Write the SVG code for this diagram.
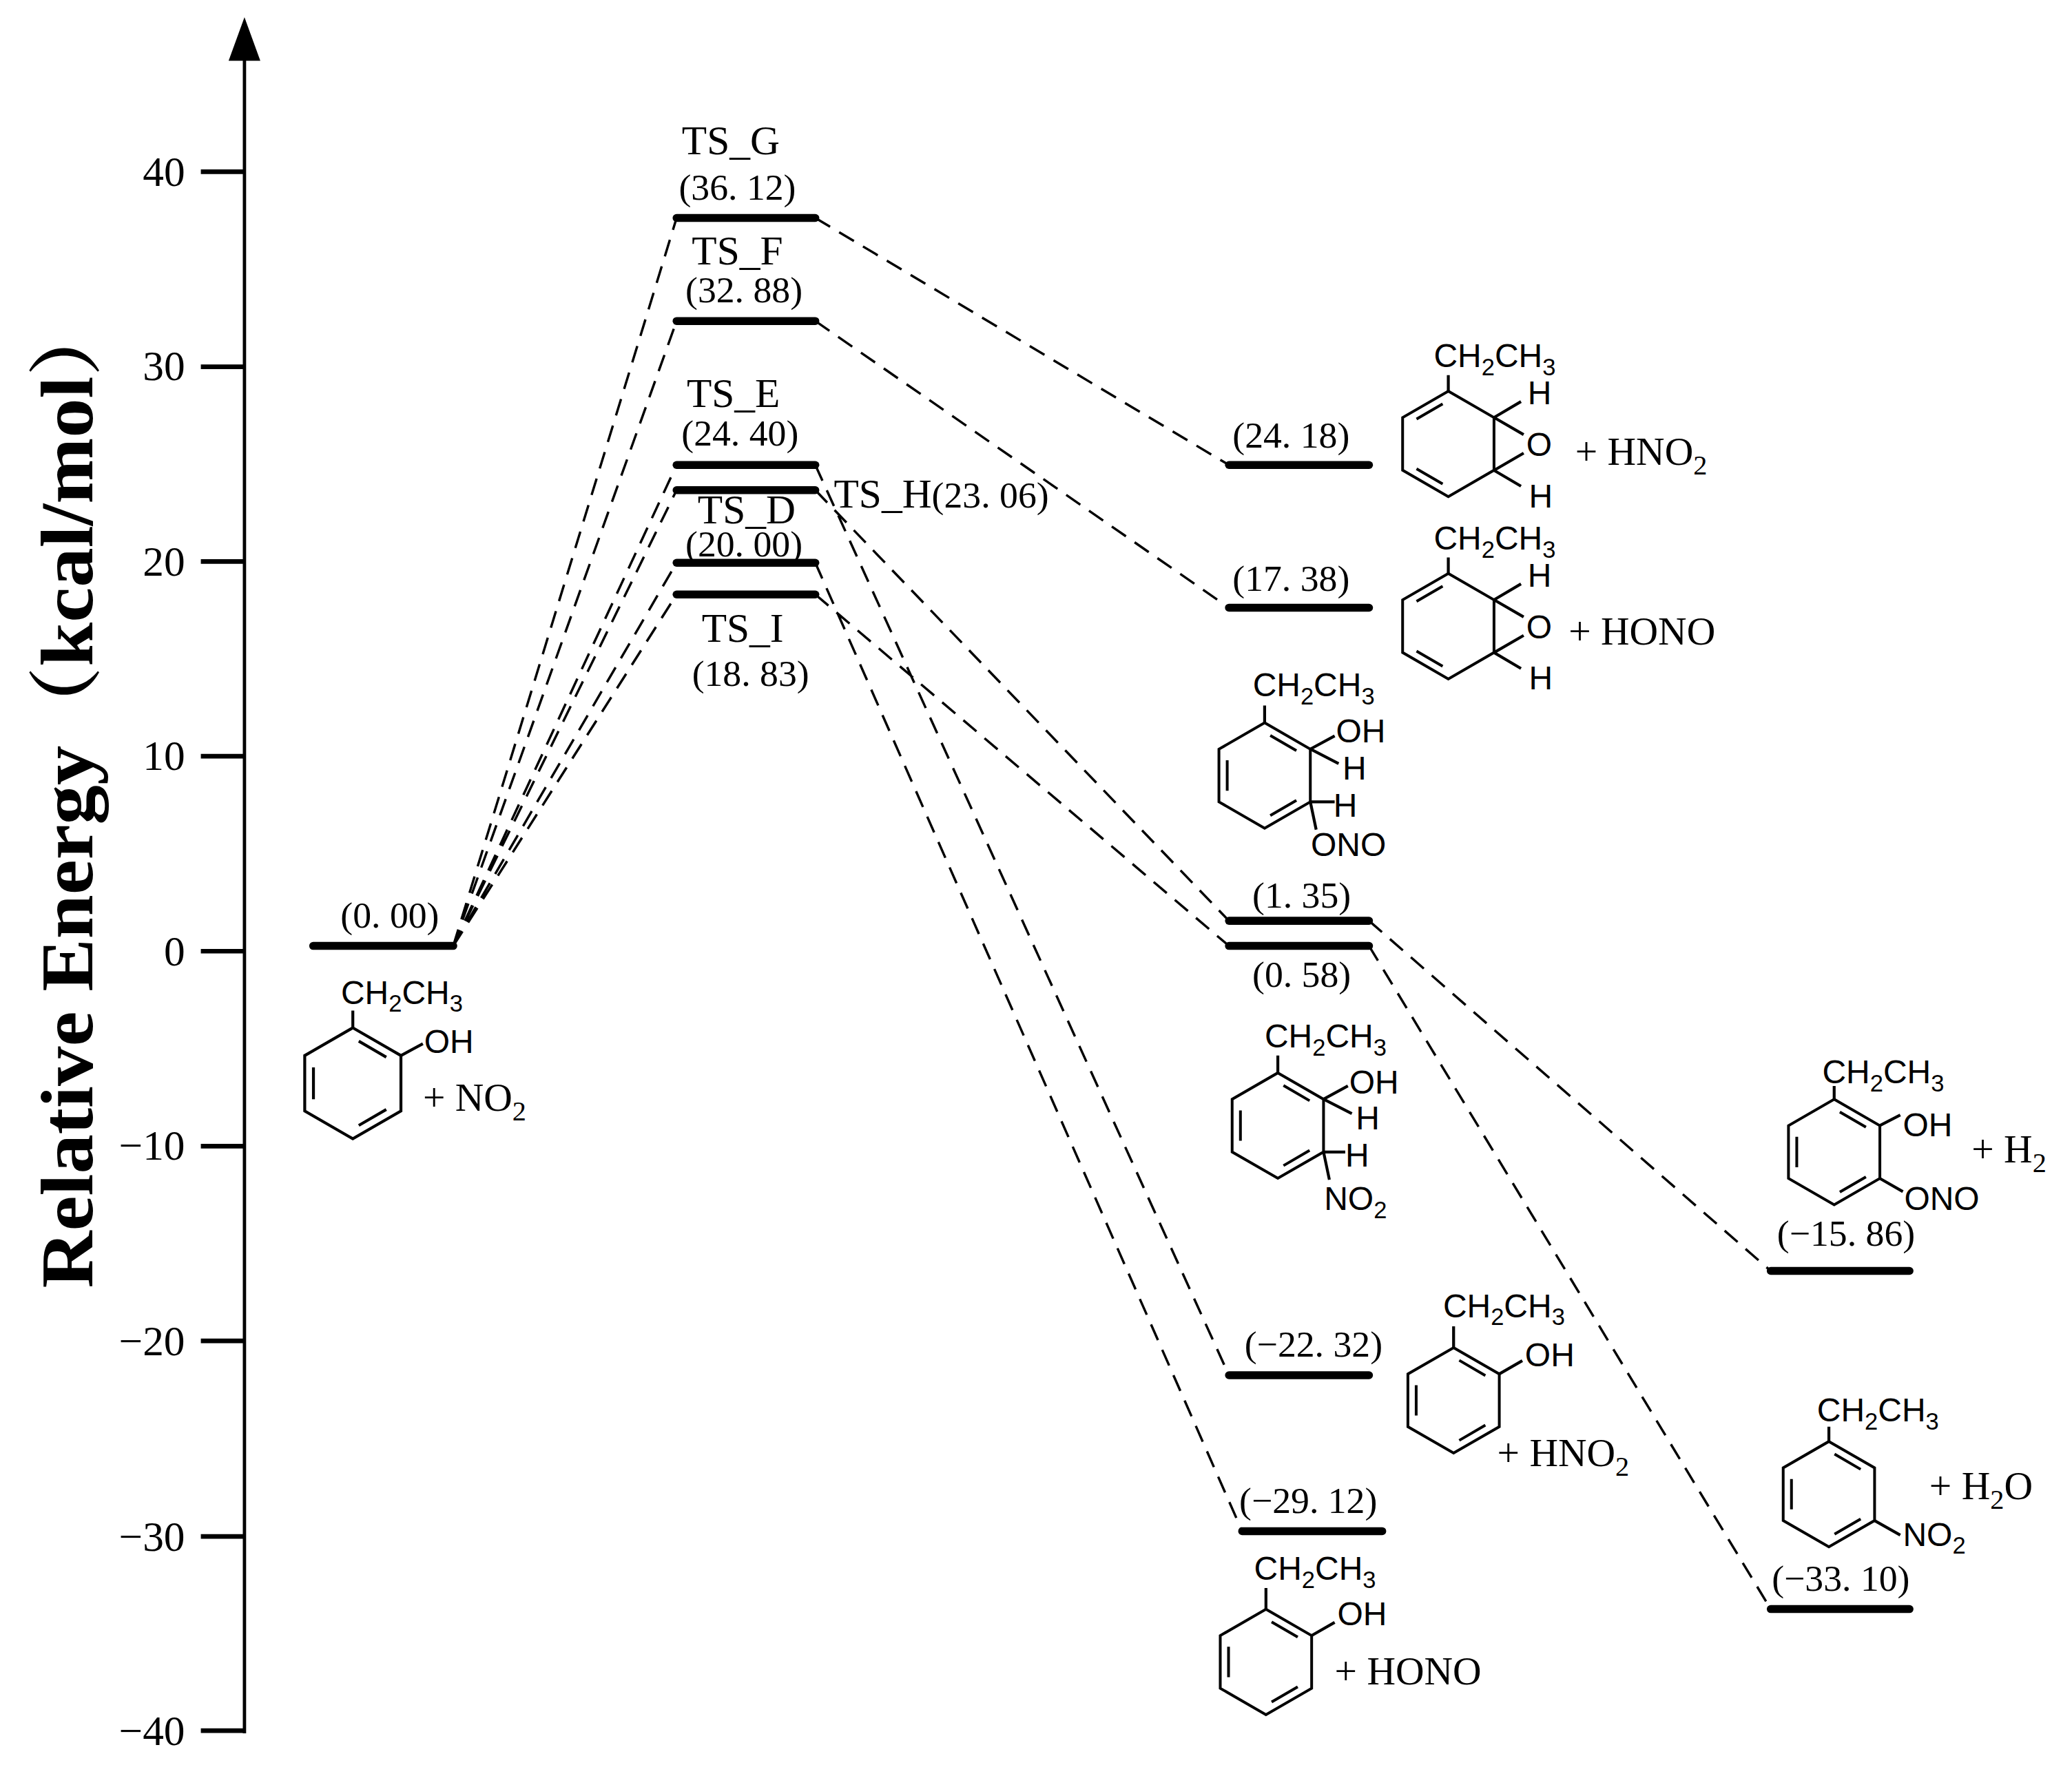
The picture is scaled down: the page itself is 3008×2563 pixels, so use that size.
<svg xmlns="http://www.w3.org/2000/svg" width="3008" height="2563" viewBox="0 0 3008 2563">
<style>
.lvl{stroke:#000;stroke-width:6;stroke-linecap:round;fill:none}
.dash{stroke:#000;stroke-width:1.8;stroke-dasharray:13 8;fill:none}
.ax{stroke:#000;stroke-width:2.5;fill:none}
.tk{stroke:#000;stroke-width:3.5;fill:none}
.num{font-family:"Liberation Serif",serif;font-size:28px;fill:#000}
.lab{font-family:"Liberation Serif",serif;font-size:31px;fill:#000}
.chem{font-family:"Liberation Sans",Arial,sans-serif;font-size:25px;fill:#000}
.plus{font-family:"Liberation Serif",serif;font-size:30px;fill:#000}
.bd{stroke:#000;stroke-width:2.2;fill:none}
</style>
<defs>
<g id="hex"><path class="bd" d="M0,-42 L36.4,-21 L36.4,21 L0,42 L-36.4,21 L-36.4,-21 Z"/></g>
<g id="arom"><use href="#hex"/><path class="bd" d="M4.5,-31.9 L25.3,-19.8 M25.3,19.8 L4.5,31.9 M-29.8,12.1 L-29.8,-12.1"/></g>
<g id="diene"><use href="#hex"/><path class="bd" d="M-25.3,-19.8 L-4.5,-31.9 M-4.5,31.9 L-25.3,19.8"/></g>
</defs>
<rect width="3008" height="2563" fill="#fff"/>
<g transform="scale(1.9184)">
<g id="axis">
<path class="ax" d="M185,1312 L185,40"/>
<path d="M185,13 L173,46 L197,46 Z" fill="#000"/>
<path class="tk" d="M152,130H185M152,277.6H185M152,425H185M152,572.4H185M152,720H185M152,867.6H185M152,1015H185M152,1163H185M152,1310H185"/>
<g class="num" text-anchor="end" style="font-size:32px">
<text x="140" y="141">40</text><text x="140" y="288">30</text><text x="140" y="436">20</text><text x="140" y="583">10</text><text x="140" y="731">0</text><text x="140" y="878">−10</text><text x="140" y="1026">−20</text><text x="140" y="1174">−30</text><text x="140" y="1321">−40</text>
</g>
<text transform="translate(70,600) rotate(-90)" text-anchor="middle" font-family="'Liberation Serif','Noto Serif CJK SC','Noto Sans CJK SC',serif" font-weight="bold" font-size="56" textLength="750" lengthAdjust="spacingAndGlyphs">Relative Energy（kcal/mol）</text>
</g>
<g id="connectors">
<path class="dash" d="M343,716 L512,165 M343,716 L512,243 M343,716 L512,352 M343,716 L512,371 M343,716 L512,426 M343,716 L512,450"/>
<path class="dash" d="M617,165 L930,352 M617,243 L930,460 M617,352 L930,1041 M617,371 L930,697 M617,426 L940,1159 M617,450 L930,716"/>
<path class="dash" d="M1036,697 L1340,962 M1036,716 L1340,1218"/>
</g>
<g id="R"><path class="lvl" d="M237,716H343"/><text class="num" x="295" y="702" text-anchor="middle">(0. 00)</text></g>
<g id="TS_G"><path class="lvl" d="M512,165H617"/><text class="lab" x="553" y="117" text-anchor="middle">TS_G</text><text class="num" x="558" y="151" text-anchor="middle">(36. 12)</text></g>
<g id="TS_F"><path class="lvl" d="M512,243H617"/><text class="lab" x="558" y="200" text-anchor="middle">TS_F</text><text class="num" x="563" y="229" text-anchor="middle">(32. 88)</text></g>
<g id="TS_E"><path class="lvl" d="M512,352H617"/><text class="lab" x="555" y="308" text-anchor="middle">TS_E</text><text class="num" x="560" y="337" text-anchor="middle">(24. 40)</text></g>
<g id="TS_H"><path class="lvl" d="M512,371H617"/><text class="lab" x="631" y="384">TS_H<tspan class="num">(23. 06)</tspan></text></g>
<g id="TS_D"><path class="lvl" d="M512,426H617"/><text class="lab" x="565" y="396" text-anchor="middle">TS_D</text><text class="num" x="563" y="421" text-anchor="middle">(20. 00)</text></g>
<g id="TS_I"><path class="lvl" d="M512,450H617"/><text class="lab" x="562" y="486" text-anchor="middle">TS_I</text><text class="num" x="568" y="519" text-anchor="middle">(18. 83)</text></g>
<g id="P1"><path class="lvl" d="M930,352H1036"/><text class="num" x="977" y="339" text-anchor="middle">(24. 18)</text></g>
<g id="P2"><path class="lvl" d="M930,460H1036"/><text class="num" x="977" y="447" text-anchor="middle">(17. 38)</text></g>
<g id="P3"><path class="lvl" d="M930,697H1036"/><text class="num" x="985" y="687" text-anchor="middle">(1. 35)</text></g>
<g id="P4"><path class="lvl" d="M930,716H1036"/><text class="num" x="985" y="747" text-anchor="middle">(0. 58)</text></g>
<g id="P5"><path class="lvl" d="M930,1041H1036"/><text class="num" x="994" y="1027" text-anchor="middle">(−22. 32)</text></g>
<g id="P6"><path class="lvl" d="M940,1159H1046"/><text class="num" x="990" y="1145" text-anchor="middle">(−29. 12)</text></g>
<g id="P7"><path class="lvl" d="M1340,962H1445"/><text class="num" x="1397" y="943" text-anchor="middle">(−15. 86)</text></g>
<g id="P8"><path class="lvl" d="M1340,1218H1445"/><text class="num" x="1393" y="1204" text-anchor="middle">(−33. 10)</text></g>

<g id="M_R">
<use href="#arom" transform="translate(267,820)"/>
<path class="bd" d="M267,778V765 M303.4,799 L320,790"/>
<text class="chem" x="258" y="760">CH<tspan font-size="18" dy="6">2</tspan><tspan dy="-6">CH</tspan><tspan font-size="18" dy="6">3</tspan></text>
<text class="chem" x="321" y="797">OH</text>
<text class="plus" x="320" y="841">+ NO<tspan font-size="21" dy="7">2</tspan></text>
</g>
<g id="M_P1">
<use href="#diene" transform="translate(1096,336) scale(0.95)"/>
<path class="bd" d="M1096,296V284 M1130.6,316 L1151,304 M1130.6,316 L1153,329 M1130.6,356 L1153,343 M1130.6,356 L1151,368"/>
<text class="chem" x="1085" y="278">CH<tspan font-size="18" dy="6">2</tspan><tspan dy="-6">CH</tspan><tspan font-size="18" dy="6">3</tspan></text>
<text class="chem" x="1156" y="306">H</text><text class="chem" x="1155" y="345">O</text><text class="chem" x="1157" y="384">H</text>
<text class="plus" x="1192" y="352">+ HNO<tspan font-size="21" dy="7">2</tspan></text>
</g>
<g id="M_P2">
<use href="#diene" transform="translate(1096,474) scale(0.95)"/>
<path class="bd" d="M1096,434V422 M1130.6,454 L1151,442 M1130.6,454 L1153,467 M1130.6,494 L1153,481 M1130.6,494 L1151,506"/>
<text class="chem" x="1085" y="416">CH<tspan font-size="18" dy="6">2</tspan><tspan dy="-6">CH</tspan><tspan font-size="18" dy="6">3</tspan></text>
<text class="chem" x="1156" y="444">H</text><text class="chem" x="1155" y="483">O</text><text class="chem" x="1157" y="522">H</text>
<text class="plus" x="1187" y="488">+ HONO</text>
</g>
<g id="M_P3">
<use href="#arom" transform="translate(957,587) scale(0.95)"/>
<path class="bd" d="M957,547V534 M991.6,567 L1010,557 M991.6,567 L1013,578 M991.6,607 L1010,607 M991.6,607 L996,628"/>
<text class="chem" x="948" y="527">CH<tspan font-size="18" dy="6">2</tspan><tspan dy="-6">CH</tspan><tspan font-size="18" dy="6">3</tspan></text>
<text class="chem" x="1011" y="562">OH</text><text class="chem" x="1016" y="590">H</text><text class="chem" x="1009" y="618">H</text>
<text class="chem" x="992" y="648">ONO</text>
</g>
<g id="M_P4">
<use href="#arom" transform="translate(967,852) scale(0.95)"/>
<path class="bd" d="M967,812V799 M1001.6,832 L1020,822 M1001.6,832 L1023,843 M1001.6,872 L1018,872 M1001.6,872 L1006,893"/>
<text class="chem" x="957" y="793">CH<tspan font-size="18" dy="6">2</tspan><tspan dy="-6">CH</tspan><tspan font-size="18" dy="6">3</tspan></text>
<text class="chem" x="1021" y="828">OH</text><text class="chem" x="1026" y="855">H</text><text class="chem" x="1018" y="883">H</text>
<text class="chem" x="1002" y="916">NO<tspan font-size="18" dy="6">2</tspan></text>
</g>
<g id="M_P5">
<use href="#arom" transform="translate(1100,1060) scale(0.95)"/>
<path class="bd" d="M1100,1020V1004 M1134.6,1040 L1152,1030"/>
<text class="chem" x="1092" y="997">CH<tspan font-size="18" dy="6">2</tspan><tspan dy="-6">CH</tspan><tspan font-size="18" dy="6">3</tspan></text>
<text class="chem" x="1154" y="1034">OH</text>
<text class="plus" x="1133" y="1110">+ HNO<tspan font-size="21" dy="7">2</tspan></text>
</g>
<g id="M_P6">
<use href="#arom" transform="translate(958,1258) scale(0.95)"/>
<path class="bd" d="M958,1218V1202 M992.6,1238 L1010,1228"/>
<text class="chem" x="949" y="1196">CH<tspan font-size="18" dy="6">2</tspan><tspan dy="-6">CH</tspan><tspan font-size="18" dy="6">3</tspan></text>
<text class="chem" x="1012" y="1230">OH</text>
<text class="plus" x="1010" y="1275">+ HONO</text>
</g>
<g id="M_P7">
<use href="#arom" transform="translate(1388,872) scale(0.95)"/>
<path class="bd" d="M1388,832V822 M1422.6,852 L1438,844 M1422.6,892 L1440,902"/>
<text class="chem" x="1379" y="820">CH<tspan font-size="18" dy="6">2</tspan><tspan dy="-6">CH</tspan><tspan font-size="18" dy="6">3</tspan></text>
<text class="chem" x="1440" y="860">OH</text>
<text class="chem" x="1441" y="916">ONO</text>
<text class="plus" x="1492" y="880">+ H<tspan font-size="21" dy="7">2</tspan></text>
</g>
<g id="M_P8">
<use href="#arom" transform="translate(1384,1131) scale(0.95)"/>
<path class="bd" d="M1384,1091V1080 M1418.6,1151 L1438,1162"/>
<text class="chem" x="1375" y="1076">CH<tspan font-size="18" dy="6">2</tspan><tspan dy="-6">CH</tspan><tspan font-size="18" dy="6">3</tspan></text>
<text class="chem" x="1440" y="1170">NO<tspan font-size="18" dy="6">2</tspan></text>
<text class="plus" x="1460" y="1135">+ H<tspan font-size="21" dy="7">2</tspan><tspan dy="-7">O</tspan></text>
</g>
</g>
</svg>
